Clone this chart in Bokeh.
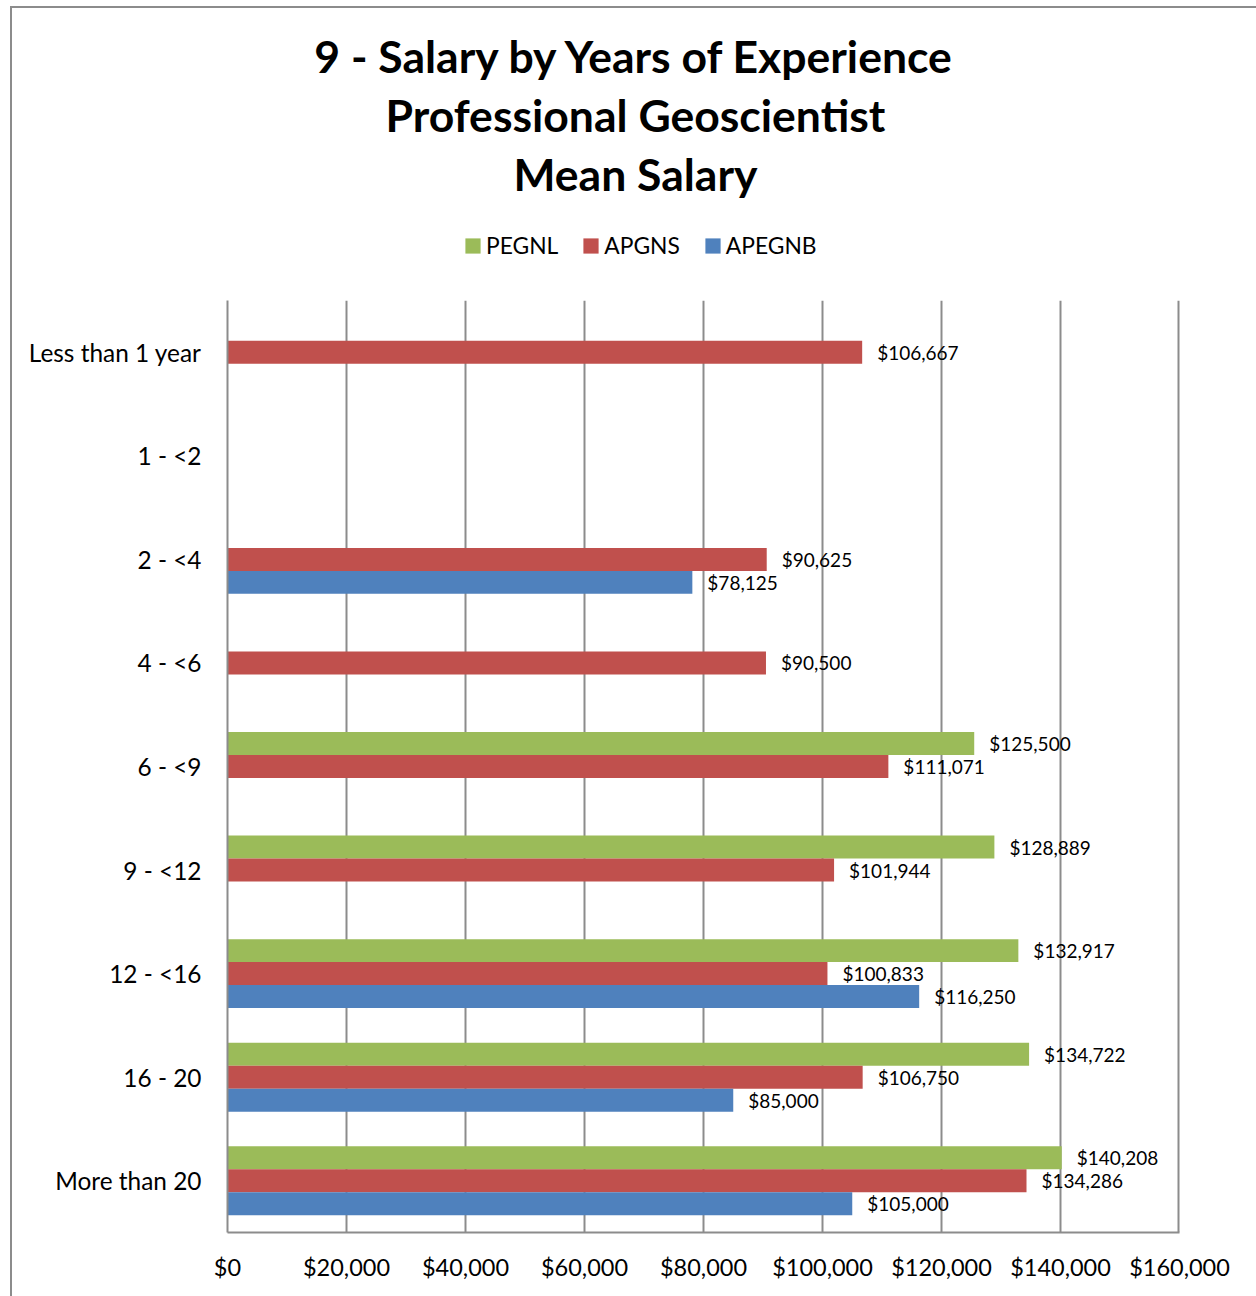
from bokeh.plotting import figure
from bokeh.models import (FactorRange, Range1d, NumeralTickFormatter, FixedTicker,
                          Legend, LegendItem, ColumnDataSource, Span)
from bokeh.layouts import column
from bokeh.transform import dodge
from bokeh.core.properties import value
from bokeh.embed import file_html
from bokeh.resources import INLINE

categories = ["Less than 1 year", "1 - <2", "2 - <4", "4 - <6", "6 - <9",
              "9 - <12", "12 - <16", "16 - 20", "More than 20"]
series_names = ["PEGNL", "APGNS", "APEGNB"]
pegnl = [None, None, None, None, 125500, 128889, 132917, 134722, 140208]
apgns = [106667, None, 90625, 90500, 111071, 101944, 100833, 106750, 134286]
apegnb = [None, None, 78125, None, None, None, 116250, 85000, 105000]
x_ticks = [0, 20000, 40000, 60000, 80000, 100000, 120000, 140000, 160000]
title_lines = ["9 - Salary by Years of Experience", "Professional Geoscientist", "Mean Salary"]

colors = ["#9BBB59", "#C0504D", "#4F81BD"]
offsets = [0.222, 0.0, -0.222]
FONT = "Lato"
GRAY = "#8c8c8c"

W = 1244
TOP_H = 292
MAIN_H = 996
BL, BR = 215, 77

# ---- header figure (titles + legend) ----
top = figure(width=W, height=TOP_H, output_backend="svg", toolbar_location=None,
             x_range=Range1d(BL, W - BR), y_range=Range1d(TOP_H, 0),
             min_border=0, min_border_left=BL, min_border_right=BR,
             min_border_top=0, min_border_bottom=0)
top.axis.visible = False
top.grid.visible = False
top.outline_line_color = None
top.background_fill_color = "white"
top.border_fill_color = "white"

title_src = ColumnDataSource(dict(x=[623] * 3, y=[47, 106, 165], t=title_lines))
top.text(x="x", y="y", text="t", source=title_src, text_align="center",
         text_baseline="middle", text_font=value(FONT), text_font_size="44.5px",
         text_font_style="bold", text_color="black")

series_vals = [pegnl, apgns, apegnb]
legend_rs = []
for col, vals in zip(colors, series_vals):
    v = max(x for x in vals if x is not None)
    src = ColumnDataSource(dict(y=[0], left=[0], right=[v]))
    r = top.hbar(y="y", left="left", right="right", height=1, source=src,
                 fill_color=col, line_color=None)
    r.visible = False
    legend_rs.append(r)
legend = Legend(items=[LegendItem(label=n, renderers=[r]) for n, r in zip(series_names, legend_rs)],
                orientation="horizontal", location=(236, 41), padding=0, margin=0,
                spacing=23, label_standoff=4, glyph_width=19, glyph_height=19,
                label_text_font=FONT, label_text_font_size="22.8px", label_text_color="black",
                border_line_color=None, background_fill_alpha=0, click_policy="none")
top.add_layout(legend, "center")

# ---- main chart ----
p = figure(width=W, height=MAIN_H, output_backend="svg", toolbar_location=None,
           y_range=FactorRange(factors=list(reversed(categories)), range_padding=0),
           x_range=Range1d(x_ticks[0], x_ticks[-1]),
           min_border_left=BL, min_border_right=BR, min_border_top=0, min_border_bottom=64)
p.outline_line_color = None
p.background_fill_color = "white"
p.border_fill_color = "white"

for name, vals, col, off in zip(series_names, series_vals, colors, offsets):
    xs = [v if v is not None else float("nan") for v in vals]
    labels = [f"${v:,}" if v is not None else "" for v in vals]
    src = ColumnDataSource(dict(cat=categories, v=xs, lab=labels))
    p.hbar(y=dodge("cat", off, range=p.y_range), left=0, right="v", height=0.222,
           source=src, fill_color=col, line_color=None)
    p.text(x="v", y=dodge("cat", off, range=p.y_range), text="lab", source=src,
           x_offset=15, text_align="left", text_baseline="middle",
           text_font=value(FONT), text_font_size="19px", text_color="black")

p.xaxis.ticker = FixedTicker(ticks=x_ticks)
p.xaxis.formatter = NumeralTickFormatter(format="$0,0")
for ax in (p.xaxis, p.yaxis):
    ax.axis_line_color = GRAY
    ax.axis_line_width = 2
    ax.major_tick_line_color = None
    ax.minor_tick_line_color = None
    ax.major_tick_out = 0
    ax.major_tick_in = 0
    ax.major_label_text_font = FONT
    ax.major_label_text_color = "black"
p.yaxis.major_label_text_font_size = "24.4px"
p.xaxis.major_label_text_font_size = "23.5px"
p.yaxis.major_label_standoff = 26
p.xaxis.major_label_standoff = 20
p.xgrid.grid_line_color = GRAY
p.xgrid.grid_line_width = 2
p.ygrid.grid_line_color = None
p.add_layout(Span(location=x_ticks[-1], dimension="height", line_color=GRAY, line_width=4))

layout = column(top, p, spacing=0)
layout.styles = {"margin-left": "10px", "margin-top": "6px",
                 "border-left": "2px solid " + GRAY, "border-top": "2px solid " + GRAY,
                 "background-color": "white"}

open("out.html", "w").write(file_html(layout, INLINE))
